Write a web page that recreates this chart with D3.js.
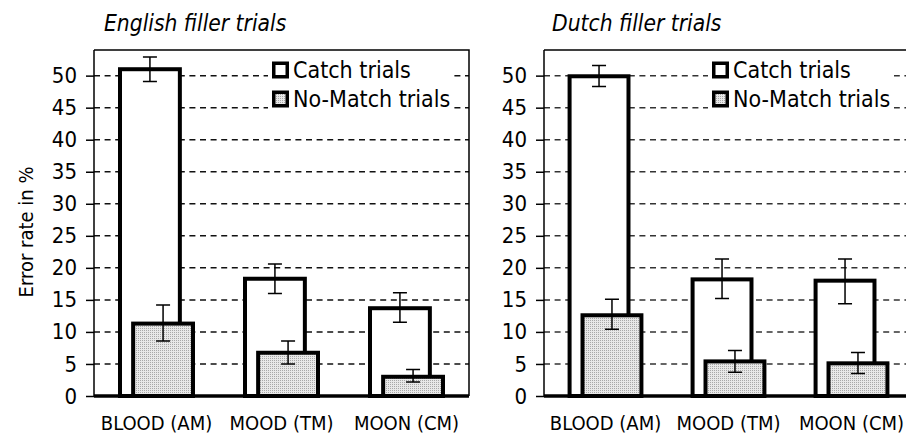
<!DOCTYPE html>
<html>
<head>
<meta charset="utf-8">
<script src="https://cdn.jsdelivr.net/npm/d3@7"></script>
<style>
  body { margin: 0; background: #fff; }
  svg { display: block; }
  text { font-family: 'DejaVu Sans Condensed', 'DejaVu Sans', Verdana, sans-serif; font-stretch: condensed; fill: #000; }
</style>
</head>
<body>
<div id="chart"></div>
<script>
const categories = ['BLOOD (AM)', 'MOOD (TM)', 'MOON (CM)']
const seriesNames = ['Catch trials', 'No-Match trials']
const panelTitles = ['English filler trials', 'Dutch filler trials']
const yTicks = [0, 5, 10, 15, 20, 25, 30, 35, 40, 45, 50]

// english filler trials
const englishCatch = [51.0, 18.3, 13.7]
const englishCatchErr = [[49.1, 52.9], [16.0, 20.6], [11.5, 16.1]]
const englishNoMatch = [11.3, 6.75, 3.0]
const englishNoMatchErr = [[8.6, 14.2], [5.0, 8.6], [2.2, 4.15]]

// dutch filler trials
const dutchCatch = [49.9, 18.2, 18.0]
const dutchCatchErr = [[48.3, 51.6], [15.2, 21.4], [14.4, 21.4]]
const dutchNoMatch = [12.6, 5.4, 5.1]
const dutchNoMatchErr = [[10.4, 15.1], [3.7, 7.1], [3.5, 6.8]]

const width = 906
const height = 434
const svg = d3.select('#chart').append('svg')
    .attr('width', width)
    .attr('height', height)

// fine stipple fill for the no-match bars
const pattern = svg.append('defs').append('pattern')
    .attr('id', 'stipple')
    .attr('width', 2)
    .attr('height', 2)
    .attr('patternUnits', 'userSpaceOnUse')
pattern.append('rect').attr('width', 2).attr('height', 2).attr('fill', '#e8e8e8')
pattern.append('rect').attr('width', 1).attr('height', 1).attr('fill', '#a8a8a8')

const y = d3.scaleLinear().domain([0, 54]).range([396, 50])

svg.append('text')
    .attr('transform', `translate(26, 232) rotate(-90)`)
    .attr('text-anchor', 'middle')
    .attr('dy', '0.35em')
    .style('font-size', '20px')
    .text('Error rate in %')

const panels = [
    {title: panelTitles[0], left: 94, right: 469, titleX: 104, legendX: 272, grid: '#111',
        catchVals: englishCatch, catchErr: englishCatchErr, noMatchVals: englishNoMatch, noMatchErr: englishNoMatchErr},
    {title: panelTitles[1], left: 544, right: 913, titleX: 552, legendX: 712, grid: '#333',
        catchVals: dutchCatch, catchErr: dutchCatchErr, noMatchVals: dutchNoMatch, noMatchErr: dutchNoMatchErr}
]

panels.forEach(drawPanel)

function drawPanel (p) {
    const g = svg.append('g')
    const x = d3.scaleBand()
        .domain(categories)
        .range([p.left, p.right])
        .paddingInner(0.416)
        .paddingOuter(0.208)
    const bw = x.bandwidth()
    const barW = bw * 0.82
    const shift = bw - barW

    g.append('text')
        .attr('x', p.titleX)
        .attr('y', 31)
        .style('font-size', '22.6px')
        .style('font-style', 'italic')
        .text(p.title)

    // dashed gridlines
    g.append('g').selectAll('line')
        .data(yTicks.filter(d => d > 0))
        .enter().append('line')
        .attr('x1', p.left)
        .attr('x2', p.right)
        .attr('y1', d => y(d))
        .attr('y2', d => y(d))
        .attr('stroke', p.grid)
        .attr('stroke-width', 1.5)
        .attr('stroke-dasharray', '6,4.6')

    // frame top + right
    g.append('path')
        .attr('d', `M${p.left},${y(54)}H${p.right}V${y(0)}`)
        .attr('fill', 'none')
        .attr('stroke', '#000')
        .attr('stroke-width', 1.5)

    const axis = d3.axisLeft(y)
        .tickValues(yTicks)
        .tickSize(8)
        .tickPadding(9)
        .tickSizeOuter(0)
    const ax = g.append('g')
        .attr('transform', `translate(${p.left}, 0)`)
        .call(axis)
    ax.select('.domain').attr('stroke', '#000').attr('stroke-width', 1.5)
        .attr('d', `M0,${y(54)}V${y(0)}`)
    ax.selectAll('.tick line').attr('stroke', '#000').attr('stroke-width', 1.5)
    ax.selectAll('.tick text')
        .style('font-size', '22px')
        .style('font-family', "'DejaVu Sans Condensed', 'DejaVu Sans', Verdana, sans-serif")

    // legend
    const leg = g.append('g').attr('transform', `translate(${p.legendX}, 0)`)
    leg.append('rect')
        .attr('x', -4)
        .attr('y', 57)
        .attr('width', 186)
        .attr('height', 56)
        .attr('fill', '#fff')
    seriesNames.forEach((name, i) => {
        const cy = 70 + i * 29
        leg.append('rect')
            .attr('x', 1.75)
            .attr('y', cy - 6.75)
            .attr('width', 13.5)
            .attr('height', 13.5)
            .attr('fill', i === 0 ? '#fff' : 'url(#stipple)')
            .attr('stroke', '#000')
            .attr('stroke-width', 3.5)
        leg.append('text')
            .attr('x', 21)
            .attr('y', cy)
            .attr('dy', '0.35em')
            .style('font-size', '23px')
            .text(name)
    })

    const bars = [
        {vals: p.catchVals, err: p.catchErr, off: 0, fill: '#fff'},
        {vals: p.noMatchVals, err: p.noMatchErr, off: shift, fill: 'url(#stipple)'}
    ]

    categories.forEach((c, i) => {
        bars.forEach(b => {
            const bx = x(c) + b.off
            g.append('rect')
                .attr('x', bx)
                .attr('y', y(b.vals[i]))
                .attr('width', barW)
                .attr('height', y(0) - y(b.vals[i]))
                .attr('fill', b.fill)
                .attr('stroke', '#000')
                .attr('stroke-width', 4)
            const cx = bx + barW / 2
            const [lo, hi] = b.err[i]
            g.append('path')
                .attr('d', `M${cx},${y(lo)}V${y(hi)}M${cx - 7},${y(lo)}h14M${cx - 7},${y(hi)}h14`)
                .attr('fill', 'none')
                .attr('stroke', '#000')
                .attr('stroke-width', 1.5)
        })
    })

    // thick baseline
    g.append('line')
        .attr('x1', p.left)
        .attr('x2', p.right)
        .attr('y1', y(0))
        .attr('y2', y(0))
        .attr('stroke', '#000')
        .attr('stroke-width', 3.5)

    g.append('g').selectAll('text')
        .data(categories)
        .enter().append('text')
        .attr('x', d => x(d) + bw / 2)
        .attr('y', 430)
        .attr('text-anchor', 'middle')
        .style('font-size', '20px')
        .text(d => d)
}
</script>
</body>
</html>
